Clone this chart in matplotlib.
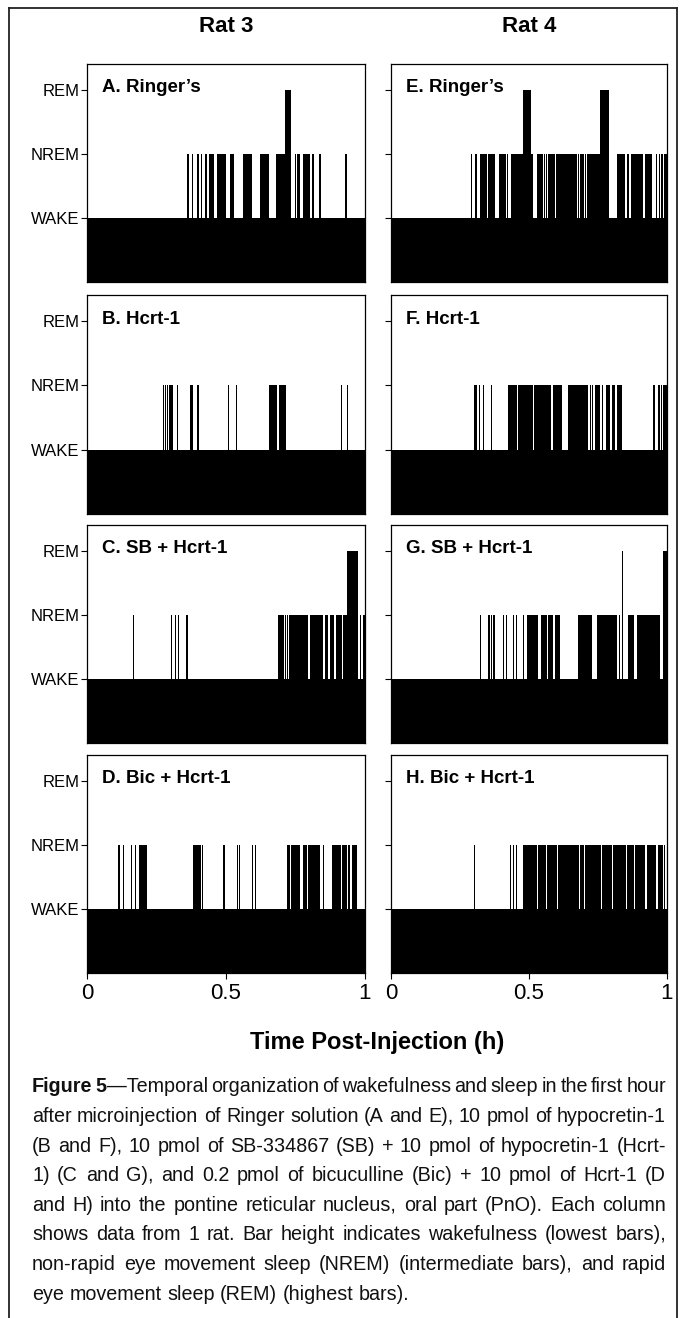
import matplotlib
matplotlib.use('Agg')
import matplotlib.pyplot as plt
from matplotlib.lines import Line2D
from matplotlib import font_manager

W, H = 686, 1318

# fonts: narrow Arial-like if present
names = {f.name for f in font_manager.fontManager.ttflist}
NARROW = 'Liberation Sans Narrow' if 'Liberation Sans Narrow' in names else 'Liberation Sans'
SANS = 'Liberation Sans'

# ---- data (hours post-injection) ----
stages = ['WAKE', 'NREM', 'REM']
stage_levels = [1, 2, 3]
time_ticks = [0, 0.5, 1]
time_tick_labels = ['0', '0.5', '1']
rats = ['Rat 3', 'Rat 4']

# Rat 3
nrem_A = [(0.361, 0.366), (0.377, 0.381), (0.397, 0.404), (0.409, 0.412), (0.424, 0.431),
          (0.440, 0.457), (0.466, 0.499), (0.514, 0.529), (0.538, 0.541), (0.560, 0.571),
          (0.573, 0.595), (0.622, 0.656), (0.679, 0.712), (0.748, 0.752), (0.757, 0.766),
          (0.778, 0.802), (0.810, 0.818), (0.836, 0.840), (0.928, 0.936)]
rem_A = [(0.712, 0.733)]

nrem_B = [(0.272, 0.276), (0.281, 0.285), (0.289, 0.292), (0.296, 0.308), (0.323, 0.326),
          (0.351, 0.354), (0.371, 0.382), (0.395, 0.404), (0.506, 0.509), (0.536, 0.540),
          (0.656, 0.685), (0.692, 0.716), (0.914, 0.918), (0.934, 0.938)]
rem_B = []

nrem_C = [(0.164, 0.168), (0.301, 0.304), (0.318, 0.321), (0.327, 0.330), (0.357, 0.362),
          (0.688, 0.709), (0.713, 0.716), (0.719, 0.722), (0.728, 0.796), (0.802, 0.850),
          (0.856, 0.868), (0.874, 0.888), (0.896, 0.916), (0.922, 0.934), (0.981, 0.984),
          (0.994, 1.0)]
rem_C = [(0.934, 0.976)]

nrem_D = [(0.113, 0.118), (0.128, 0.134), (0.157, 0.162), (0.173, 0.178), (0.188, 0.215),
          (0.380, 0.409), (0.413, 0.418), (0.490, 0.496), (0.541, 0.544), (0.548, 0.552),
          (0.592, 0.596), (0.606, 0.609), (0.721, 0.730), (0.735, 0.766), (0.776, 0.790),
          (0.795, 0.838), (0.848, 0.852), (0.880, 0.912), (0.916, 0.934), (0.940, 0.946),
          (0.952, 0.972)]
rem_D = []

# Rat 4
nrem_E = [(0.187, 0.190), (0.289, 0.292), (0.305, 0.310), (0.322, 0.348), (0.352, 0.377),
          (0.392, 0.418), (0.422, 0.425), (0.434, 0.479), (0.506, 0.516), (0.520, 0.523),
          (0.528, 0.552), (0.556, 0.559), (0.563, 0.566), (0.570, 0.594), (0.597, 0.673),
          (0.676, 0.680), (0.685, 0.699), (0.703, 0.706), (0.709, 0.757), (0.818, 0.848),
          (0.854, 0.863), (0.868, 0.890), (0.892, 0.895), (0.896, 0.914), (0.920, 0.944),
          (0.960, 0.964), (0.970, 0.974), (0.980, 0.984), (0.990, 1.0)]
rem_E = [(0.479, 0.506), (0.757, 0.791)]

nrem_F = [(0.301, 0.310), (0.318, 0.321), (0.335, 0.338), (0.361, 0.366), (0.390, 0.393),
          (0.425, 0.455), (0.461, 0.513), (0.518, 0.579), (0.586, 0.618), (0.643, 0.715),
          (0.721, 0.724), (0.728, 0.731), (0.739, 0.757), (0.763, 0.768), (0.779, 0.793),
          (0.799, 0.812), (0.818, 0.836), (0.950, 0.956), (0.969, 0.973), (0.978, 0.982),
          (0.987, 0.991), (0.994, 1.0)]
rem_F = []

nrem_G = [(0.322, 0.325), (0.353, 0.357), (0.361, 0.365), (0.370, 0.377), (0.397, 0.400),
          (0.405, 0.409), (0.417, 0.420), (0.441, 0.444), (0.453, 0.458), (0.477, 0.481),
          (0.492, 0.534), (0.542, 0.564), (0.570, 0.588), (0.594, 0.612), (0.679, 0.727),
          (0.748, 0.820), (0.827, 0.830), (0.860, 0.880), (0.890, 0.975), (0.977, 0.980)]
rem_G = [(0.836, 0.840), (0.984, 1.0)]

nrem_H = [(0.300, 0.303), (0.432, 0.435), (0.442, 0.446), (0.452, 0.455), (0.478, 0.530),
          (0.534, 0.560), (0.564, 0.600), (0.606, 0.680), (0.684, 0.700), (0.704, 0.760),
          (0.765, 0.800), (0.804, 0.850), (0.856, 0.880), (0.885, 0.920), (0.926, 0.960),
          (0.966, 0.985), (0.990, 0.994)]
rem_H = []

panels_rat3 = [('A. Ringer\u2019s', nrem_A, rem_A), ('B. Hcrt-1', nrem_B, rem_B),
               ('C. SB + Hcrt-1', nrem_C, rem_C), ('D. Bic + Hcrt-1', nrem_D, rem_D)]
panels_rat4 = [('E. Ringer\u2019s', nrem_E, rem_E), ('F. Hcrt-1', nrem_F, rem_F),
               ('G. SB + Hcrt-1', nrem_G, rem_G), ('H. Bic + Hcrt-1', nrem_H, rem_H)]

caption_lines = [
    'Figure 5\u2014Temporal organization of wakefulness and sleep in the first hour',
    'after microinjection of Ringer solution (A and E), 10 pmol of hypocretin-1',
    '(B and F), 10 pmol of SB-334867 (SB) + 10 pmol of hypocretin-1 (Hcrt-',
    '1) (C and G), and 0.2 pmol of bicuculline (Bic) + 10 pmol of Hcrt-1 (D',
    'and H) into the pontine reticular nucleus, oral part (PnO). Each column',
    'shows data from 1 rat. Bar height indicates wakefulness (lowest bars),',
    'non-rapid eye movement sleep (NREM) (intermediate bars), and rapid',
    'eye movement sleep (REM) (highest bars).',
]


def draw_hypnogram(ax, nrem, rem):
    # wake baseline over the whole hour, then NREM / REM bouts on top
    ax.bar(0, stage_levels[0], width=1, align='edge', color='black', linewidth=0)
    for bouts, level in ((nrem, stage_levels[1]), (rem, stage_levels[2])):
        if bouts:
            starts = [s for s, e in bouts]
            widths = [e - s for s, e in bouts]
            ax.bar(starts, [level] * len(bouts), width=widths, align='edge',
                   color='black', linewidth=0)


fig = plt.figure(figsize=(W / 100, H / 100), dpi=100)

col_x = [(87, 365), (391, 667)]
row_y = [(64, 282), (295, 514), (525, 743), (755, 973)]

for c, panels in enumerate([panels_rat3, panels_rat4]):
    x0, x1 = col_x[c]
    for r, (label, nrem, rem) in enumerate(panels):
        y0, y1 = row_y[r]
        ax = fig.add_axes([x0 / W, 1 - y1 / H, (x1 - x0) / W, (y1 - y0) / H])
        draw_hypnogram(ax, nrem, rem)
        ax.set_xlim(0, 1)
        ax.set_ylim(0, 3.4)
        ax.set_yticks(stage_levels)
        if c == 0:
            ax.set_yticklabels(stages, fontsize=12, family=SANS)
        else:
            ax.set_yticklabels([])
        ax.tick_params(axis='y', direction='out', length=4.5, width=0.8, pad=1)
        ax.set_xticks(time_ticks)
        if r == 3:
            ax.set_xticklabels(time_tick_labels, fontsize=16, family=SANS)
            ax.tick_params(axis='x', direction='out', length=4, width=0.8, pad=3)
        else:
            ax.set_xticklabels([])
            ax.tick_params(axis='x', length=0)
        for sp in ax.spines.values():
            sp.set_linewidth(0.9)
        ax.text(0.053, 0.89, label, transform=ax.transAxes, fontsize=13.5,
                fontweight='bold', family=SANS, ha='left', va='center')
    fig.text((x0 + x1) / 2 / W, 1 - 27 / H, rats[c], fontsize=16, fontweight='bold',
             family=NARROW, ha='center', va='center')

fig.text(377 / W, 1 - 1042 / H, 'Time Post-Injection (h)', fontsize=17,
         fontweight='bold', family=NARROW, ha='center', va='center')

# outer frame (page box, open at the bottom)
frame_kw = dict(color='#222222', linewidth=1.3, transform=fig.transFigure)
fig.add_artist(Line2D([9 / W, 9 / W], [0, 1 - 8 / H], **frame_kw))
fig.add_artist(Line2D([677 / W, 677 / W], [0, 1 - 8 / H], **frame_kw))
fig.add_artist(Line2D([9 / W, 677 / W], [1 - 8 / H, 1 - 8 / H], **frame_kw))

# caption, justified line by line
renderer = fig.canvas.get_renderer()
cap_fs = 15 if NARROW != SANS else 14.2
cap_left, cap_right = 32, 666


def measure(t):
    return t.get_window_extent(renderer=renderer).width


def put_line(y_px, words, justify):
    placed = []
    widths = []
    for word in words:
        runs = []
        ww = 0
        for txt, wt in word:
            t = fig.text(0, 1 - y_px / H, txt, fontsize=cap_fs, fontweight=wt,
                         family=NARROW, ha='left', va='baseline', color='#111111')
            w = measure(t)
            runs.append((t, w))
            ww += w
        placed.append(runs)
        widths.append(ww)
    if justify and len(widths) > 1:
        gap = (cap_right - cap_left - sum(widths)) / (len(widths) - 1)
    else:
        probe = fig.text(0, 0, 'a a', fontsize=cap_fs, family=NARROW)
        probe2 = fig.text(0, 0, 'aa', fontsize=cap_fs, family=NARROW)
        gap = measure(probe) - measure(probe2)
        probe.remove()
        probe2.remove()
    x = cap_left
    for runs, ww in zip(placed, widths):
        xx = x
        for t, w in runs:
            t.set_x(xx / W)
            xx += w
        x += ww + gap


for i, line in enumerate(caption_lines):
    words = []
    for w in line.split(' '):
        if i == 0 and w == 'Figure':
            words.append([(w, 'bold')])
        elif i == 0 and w.startswith('5\u2014'):
            words.append([('5', 'bold'), (w[1:], 'normal')])
        else:
            words.append([(w, 'normal')])
    baseline = 1085.5 + 29.6 * i + 7
    put_line(baseline, words, justify=(i < len(caption_lines) - 1))

fig.savefig('out.png', dpi=100)
